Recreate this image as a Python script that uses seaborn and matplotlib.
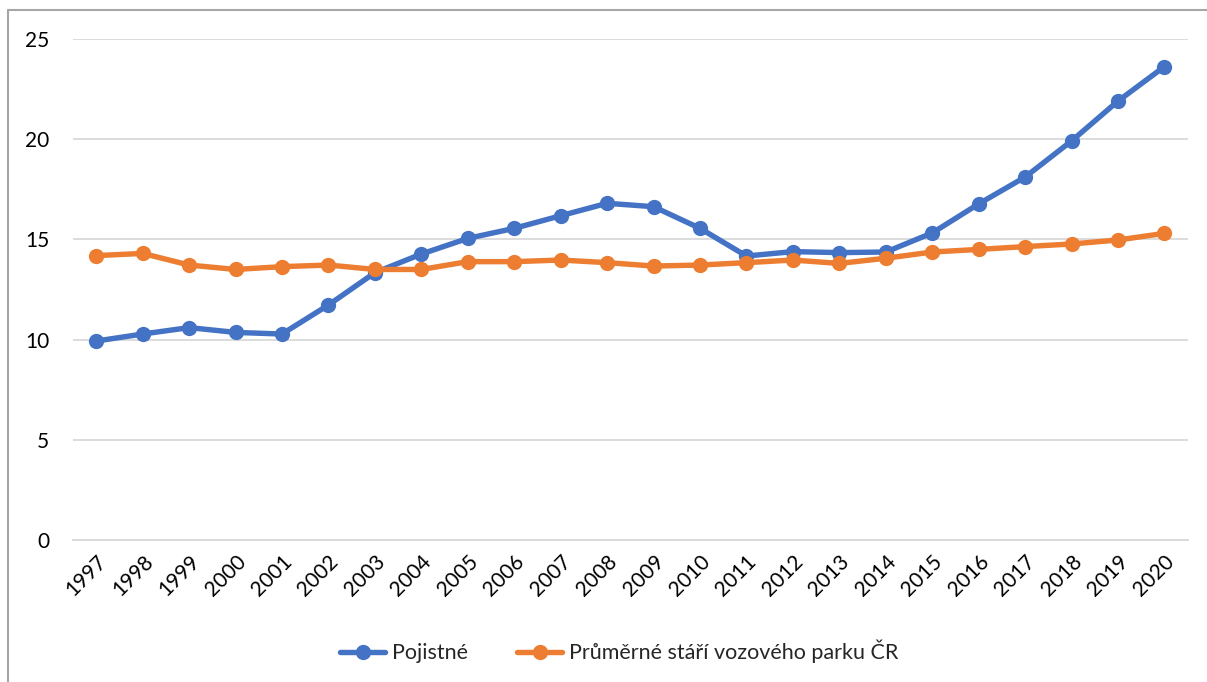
import seaborn as sns
import pandas as pd
import matplotlib.pyplot as plt
from matplotlib.lines import Line2D

years = [str(y) for y in range(1997, 2021)]
pojistne = [9.93, 10.28, 10.6, 10.36, 10.28, 11.73, 13.34, 14.27, 15.05, 15.55,
            16.18, 16.8, 16.63, 15.55, 14.17, 14.39, 14.34, 14.37, 15.32, 16.77,
            18.11, 19.91, 21.9, 23.62]
stari = [14.19, 14.3, 13.72, 13.5, 13.64, 13.72, 13.5, 13.5, 13.89, 13.89,
         13.97, 13.84, 13.67, 13.72, 13.84, 13.97, 13.8, 14.06, 14.37, 14.5,
         14.64, 14.77, 14.97, 15.3]
series_names = ['Pojistné', 'Průměrné stáří vozového parku ČR']
colors = ['#4472C4', '#ED7D31']

df = pd.DataFrame({'rok': years, series_names[0]: pojistne, series_names[1]: stari})
df = df.melt(id_vars='rok', var_name='serie', value_name='hodnota')

sns.set_style('white')
plt.rcParams['font.family'] = ['Lato', 'DejaVu Sans']

fig = plt.figure(figsize=(12.07, 6.82), dpi=100)
ax = fig.add_axes([0.0605, 0.208, 0.9235, 0.735])

sns.lineplot(
    data=df, x='rok', y='hodnota', hue='serie', palette=colors,
    marker='o', markersize=11, markeredgewidth=0, linewidth=3.9,
    sort=False, ax=ax
)

ax.set_xlim(-0.5, len(years) - 0.5)
ax.set_ylim(0, 25)
ax.set_yticks([0, 5, 10, 15, 20, 25])
ax.yaxis.grid(True, color='#D9D9D9', linewidth=1.3)
ax.set_axisbelow(True)
for s in ax.spines.values():
    s.set_visible(False)
ax.spines['bottom'].set_visible(True)
ax.spines['bottom'].set_color('#D9D9D9')
ax.spines['bottom'].set_linewidth(1.3)
ax.set_xlabel('')
ax.set_ylabel('')
ax.tick_params(axis='both', length=0, labelsize=15, colors='black', pad=8)
ax.tick_params(axis='y', pad=17)
plt.setp(ax.get_xticklabels(), rotation=45, ha='right', rotation_mode='anchor')

handles = [Line2D([0], [0], color=c, linewidth=3.9, marker='o', markersize=11,
                  markeredgewidth=0) for c in colors]
fig.legend(handles, series_names, loc='center', bbox_to_anchor=(0.513, 0.045),
           ncol=2, frameon=False, fontsize=15.5, handlelength=2.1,
           columnspacing=2.3, handletextpad=0.3)
ax.get_legend().remove()

# outer frame (top and left visible)
fig.add_artist(Line2D([0.0066, 1.0], [0.985, 0.985], color='#A6A6A6', linewidth=1.5,
                      transform=fig.transFigure))
fig.add_artist(Line2D([0.0066, 0.0066], [0.0, 0.985], color='#A6A6A6', linewidth=1.5,
                      transform=fig.transFigure))

fig.savefig('out.png', dpi=100)
